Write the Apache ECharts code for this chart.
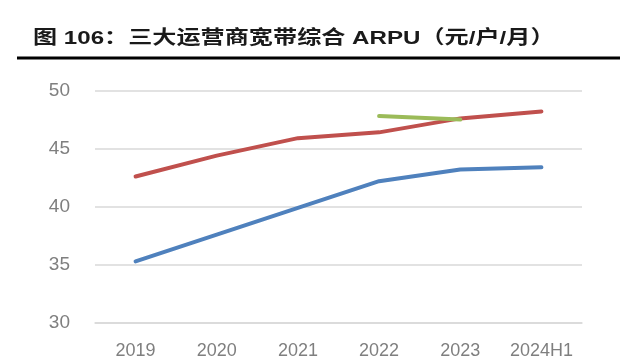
<!DOCTYPE html>
<html>
<head>
<meta charset="utf-8">
<script src="https://cdn.jsdelivr.net/npm/echarts@6/dist/echarts.min.js"></script>
<style>html,body{margin:0;padding:0;background:#fff;}#c{width:640px;height:360px;}</style>
</head>
<body>
<div id="c"></div>
<script>
var categories = ['2019', '2020', '2021', '2022', '2023', '2024H1'];
var seriesBlue = [35.3, 37.6, 39.9, 42.2, 43.2, 43.4];
var seriesRed = [42.6, 44.4, 45.9, 46.4, 47.6, 48.2];
var seriesGreen = [null, null, null, 47.8, 47.5, null];
var yTicks = [30, 35, 40, 45, 50];
var titleText = '图 106：三大运营商宽带综合 ARPU（元/户/月）';

var chart = echarts.init(document.getElementById('c'), null, {renderer: 'canvas'});
function lineSeries(name, data, color) {
  return {
    name: name, type: 'line', data: data, symbol: 'none', smooth: false,
    connectNulls: false,
    lineStyle: {color: color, width: 4, cap: 'round', join: 'round'},
    itemStyle: {color: color}
  };
}
chart.setOption({
  animation: false,
  backgroundColor: '#ffffff',
  grid: {left: 95, right: 58, top: 90.5, bottom: 34.5, containLabel: false},
  xAxis: {
    type: 'category', data: categories, boundaryGap: true,
    axisLine: {show: true, lineStyle: {color: '#d9d9d9', width: 1.5}},
    axisTick: {show: false},
    axisLabel: {interval: 0, color: '#7f7f7f', fontSize: 18, fontFamily: 'Liberation Sans, Arial, sans-serif', margin: 19}
  },
  yAxis: {
    type: 'value', min: yTicks[0], max: yTicks[yTicks.length - 1], interval: 5,
    axisLine: {show: false}, axisTick: {show: false},
    splitLine: {lineStyle: {color: '#d9d9d9', width: 1.5}},
    axisLabel: {color: '#7f7f7f', fontSize: 19, fontFamily: 'Liberation Sans, Arial, sans-serif', margin: 25}
  },
  series: [
    lineSeries('宽带ARPU-1', seriesBlue, '#4f81bd'),
    lineSeries('宽带ARPU-2', seriesRed, '#c0504d'),
    lineSeries('宽带ARPU-3', seriesGreen, '#9bbb59')
  ],
  graphic: [
    {type: 'text', x: 33, y: 29, scaleX: 1.27,
     style: {text: titleText, fill: '#1a1a1a', font: 'bold 19px "Liberation Sans", "Noto Sans CJK SC", sans-serif'}},
    {type: 'rect', shape: {x: 17, y: 56.5, width: 603, height: 3}, style: {fill: '#000000'}}
  ]
});
</script>
</body>
</html>
